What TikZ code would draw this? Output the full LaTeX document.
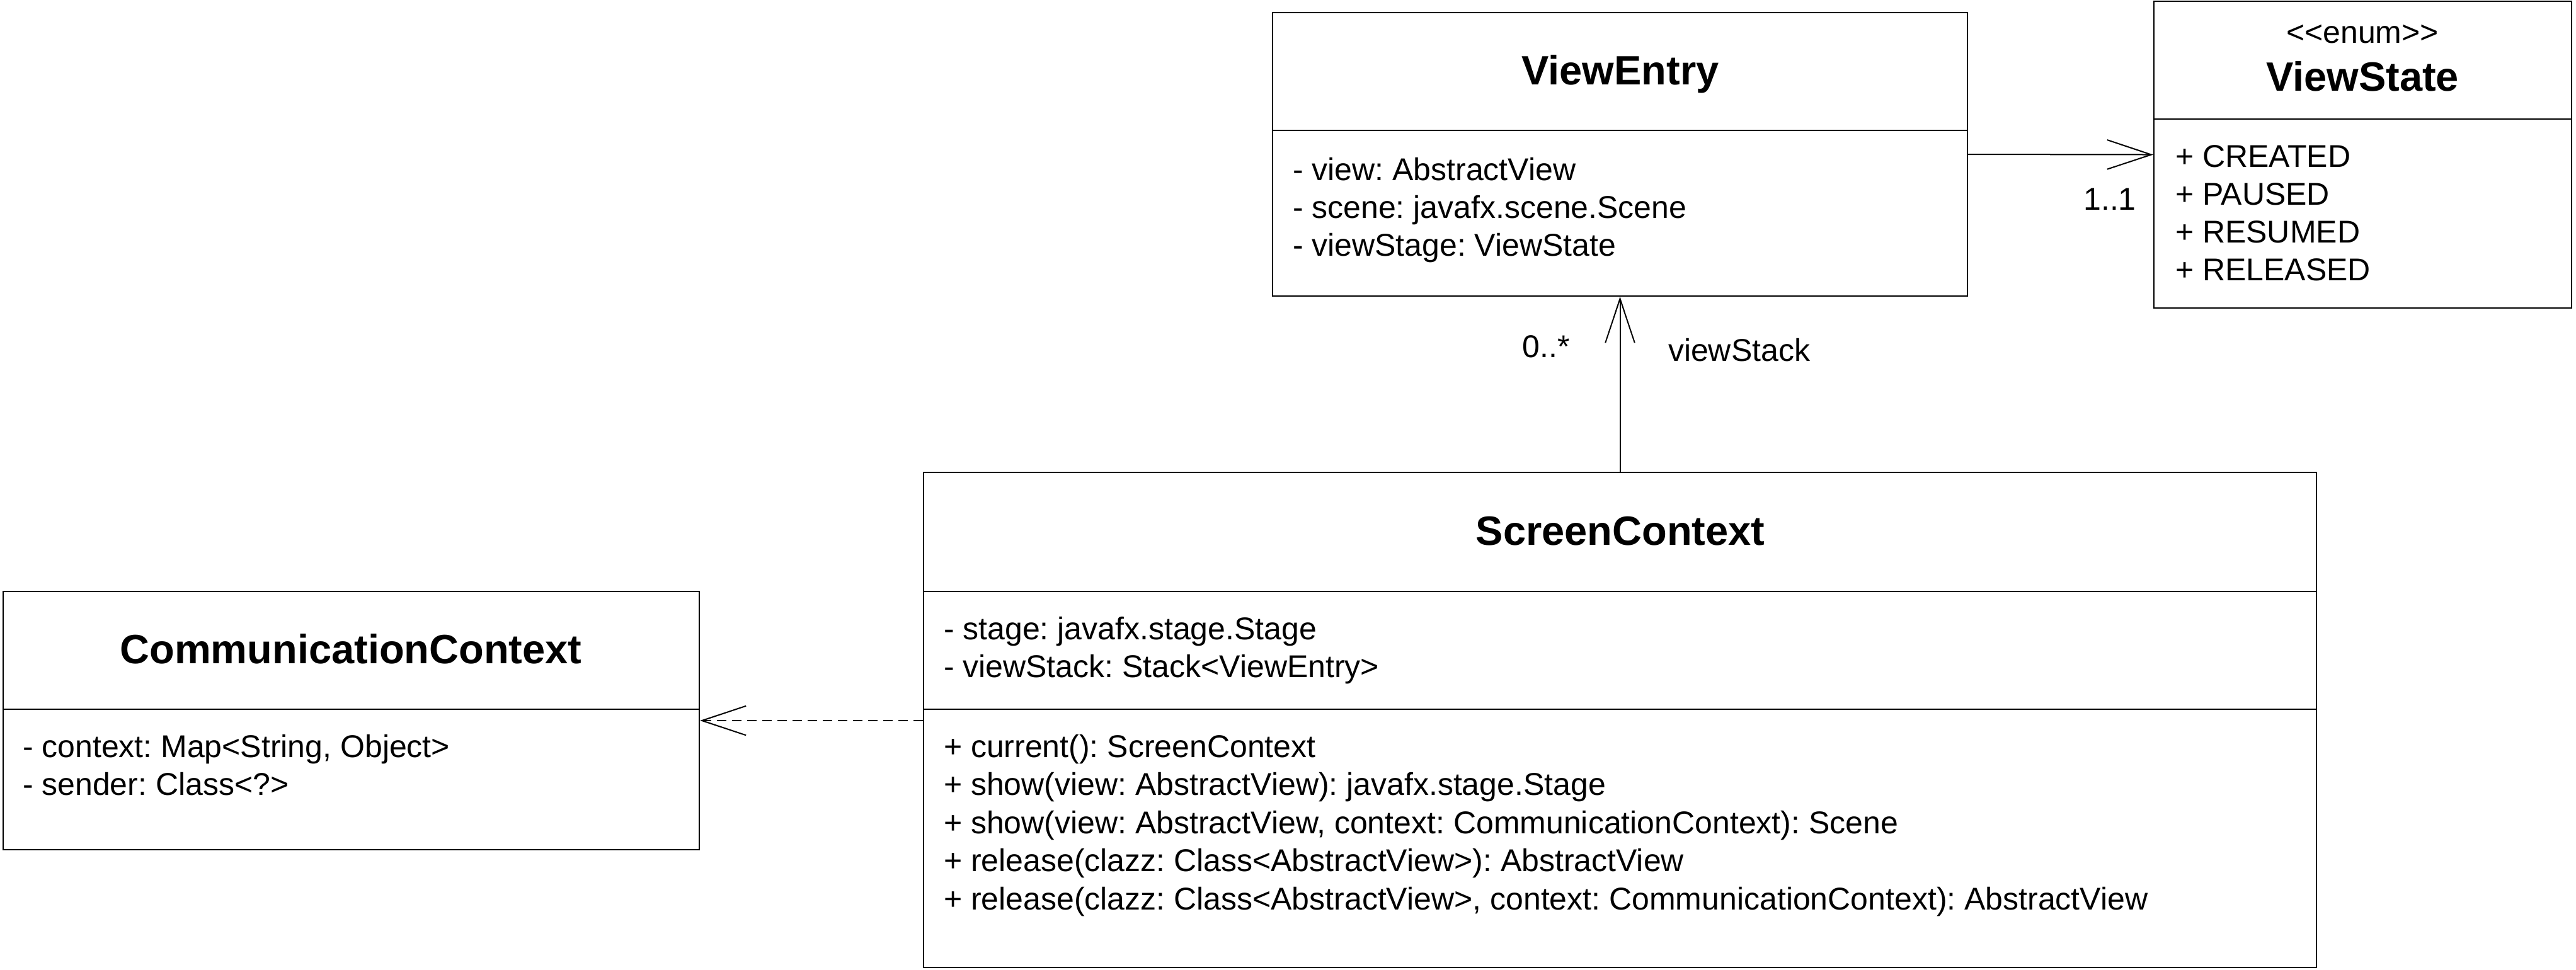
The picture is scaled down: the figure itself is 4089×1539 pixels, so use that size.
\documentclass[tikz,border=0pt]{standalone}
\usepackage{fontspec}
\setmainfont{Liberation Sans}
\usetikzlibrary{arrows.meta,fit}
\frenchspacing

\begin{document}
\begin{tikzpicture}[x=.2pt, y=-.2pt, line width=.4pt,
	classbox/.style={draw, inner sep=0pt},
	title/.style={font=\fontsize{13}{15}\selectfont\bfseries, anchor=base, inner sep=0pt},
	member/.style={font=\fontsize{10}{12}\selectfont, anchor=base west, inner sep=0pt},
	mult/.style={font=\fontsize{10}{12}\selectfont, anchor=base, inner sep=0pt},
	assoc/.style={-{Straight Barb[length=14pt, width=9.3pt]}},
	depend/.style={assoc, dash pattern=on 3pt off 1.8pt}]
	\useasboundingbox (0,0) rectangle (4089,1539);
	% ViewEntry
	\node[classbox, fit={(2020,20) (3123,470)}] (viewentry) {};
	\draw (2020,207) -- (3123,207);
	\node[title]  (ve-title) at (2572,134) {ViewEntry};
	\node[member] (ve-view)  at (2051,286) {- view: AbstractView};
	\node[member] (ve-scene) at (2051,346) {- scene: javafx.scene.Scene};
	\node[member] (ve-stage) at (2051,406) {- viewStage: ViewState};
	% ViewState
	\node[classbox, fit={(3419,2) (4082,489)}] (viewstate) {};
	\draw (3419,189) -- (4082,189);
	\node[mult]   (vs-stereo)   at (3750,68)  {<{}<enum>{}>};
	\node[title]  (vs-title)    at (3750,144) {ViewState};
	\node[member] (vs-created)  at (3452,265) {+ CREATED};
	\node[member] (vs-paused)   at (3452,325) {+ PAUSED};
	\node[member] (vs-resumed)  at (3452,385) {+ RESUMED};
	\node[member] (vs-released) at (3452,445) {+ RELEASED};
	% ScreenContext
	\node[classbox, fit={(1466,750) (3677,1536)}] (screen) {};
	\draw (1466,939) -- (3677,939);
	\draw (1466,1126) -- (3677,1126);
	\node[title]  (sc-title) at (2572,865) {ScreenContext};
	\node[member] (sc-stage) at (1497,1015) {- stage: javafx.stage.Stage};
	\node[member] (sc-stack) at (1497,1075) {- viewStack: Stack<ViewEntry>};
	\node[member] (sc-m1) at (1497,1202) {+ current(): ScreenContext};
	\node[member] (sc-m2) at (1497,1262) {+ show(view: AbstractView): javafx.stage.Stage};
	\node[member] (sc-m3) at (1497,1323) {+ show(view: AbstractView, context: CommunicationContext): Scene};
	\node[member] (sc-m4) at (1497,1383) {+ release(clazz: Class<AbstractView>): AbstractView};
	\node[member] (sc-m5) at (1497,1444) {+ release(clazz: Class<AbstractView>, context: CommunicationContext): AbstractView};
	% CommunicationContext
	\node[classbox, fit={(5,939) (1110,1349)}] (comm) {};
	\draw (5,1126) -- (1110,1126);
	\node[title]  (cc-title)   at (557,1053) {CommunicationContext};
	\node[member] (cc-context) at (35,1202)  {- context: Map<String, Object>};
	\node[member] (cc-sender)  at (35,1262)  {- sender: Class<?>};
	% relations
	\draw[assoc]  (viewentry.east) -- (viewstate.west);
	\node[mult]   (m-state) at (3349,333) {1..1};
	\draw[assoc]  (screen.north) -- (viewentry.south);
	\node[mult]   (m-stack) at (2454,567) {0..*};
	\node[member] (r-stack) at (2647,573) {viewStack};
	\draw[depend] (screen.west |- comm.east) -- (comm.east);
\end{tikzpicture}
\end{document}
